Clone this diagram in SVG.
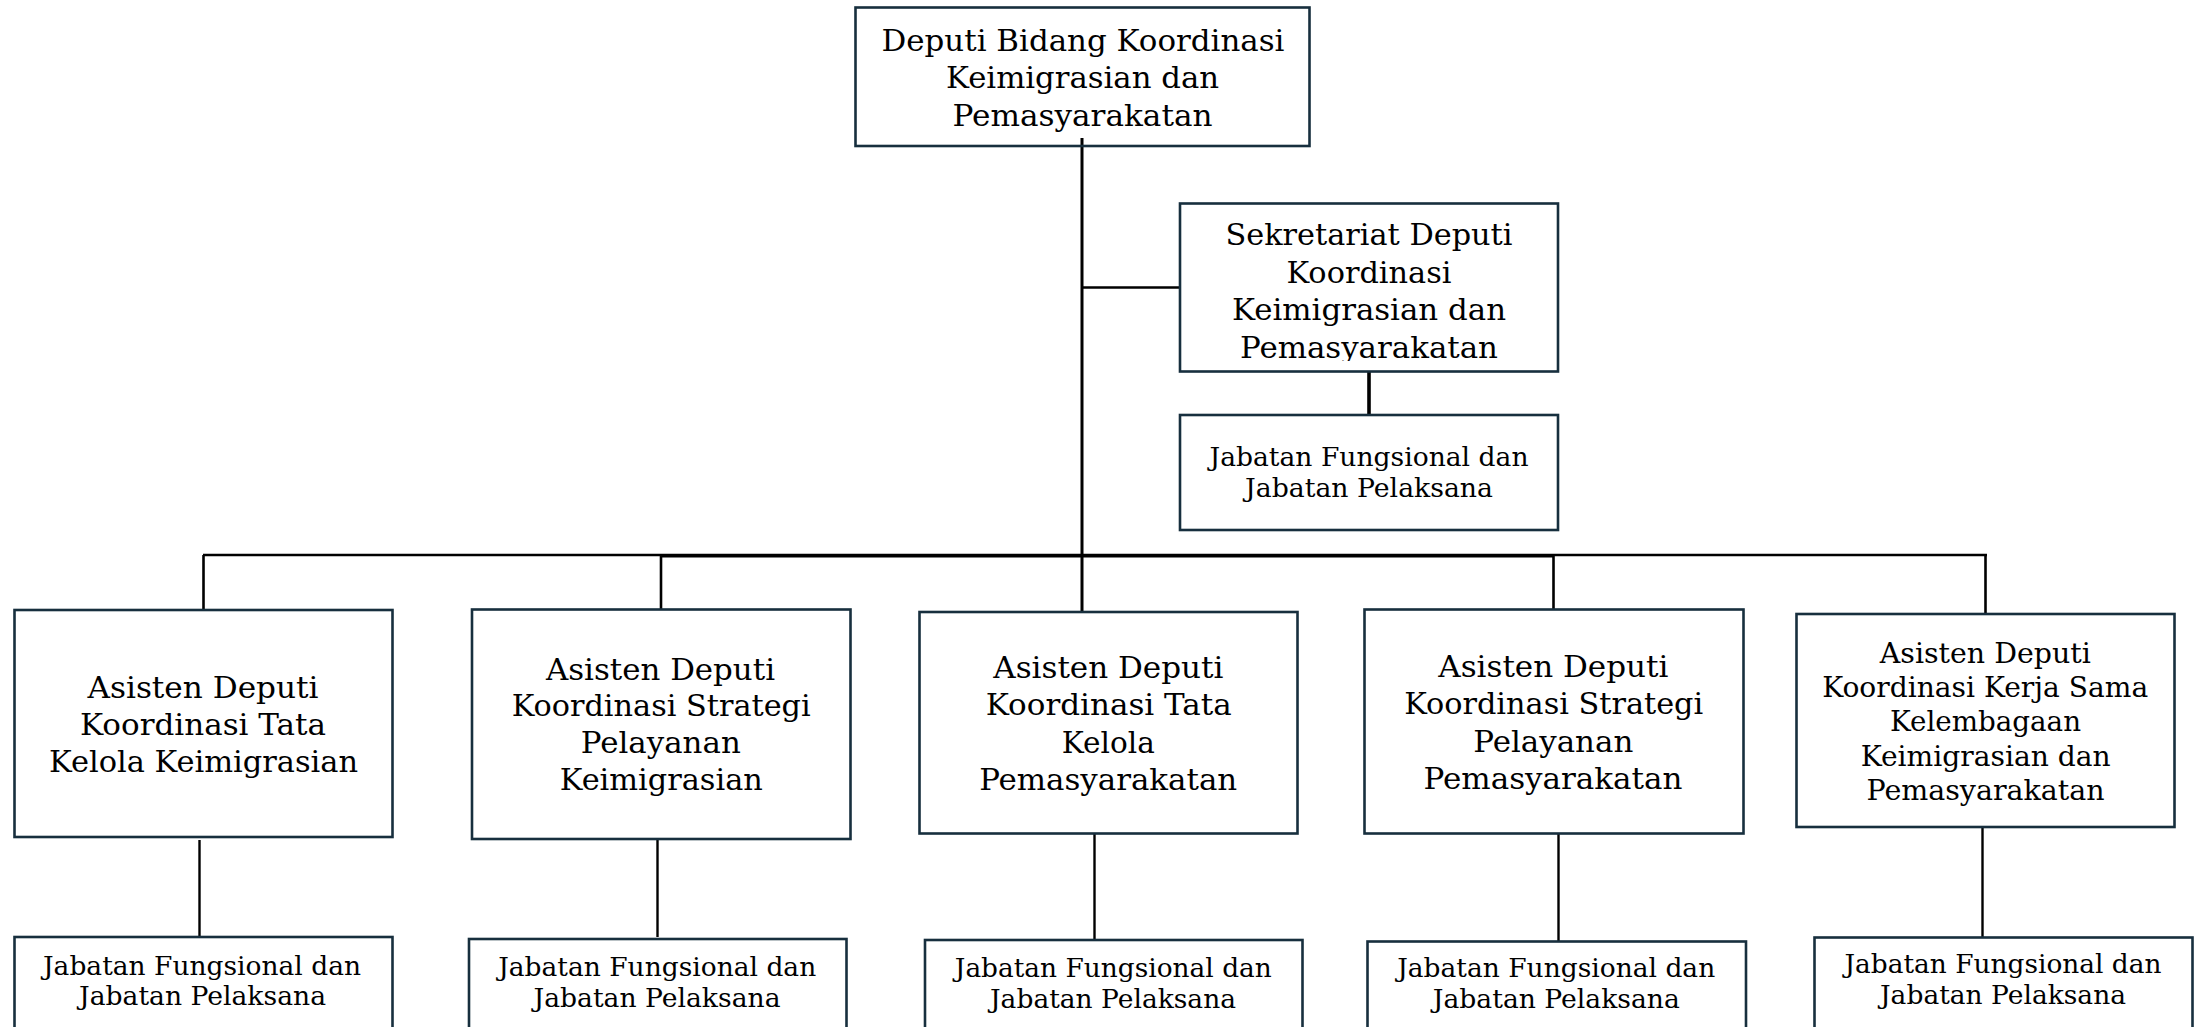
<svg xmlns="http://www.w3.org/2000/svg" width="2197" height="1027" viewBox="0 0 2197 1027">
<style>
.box{fill:#ffffff;stroke:#172f3e;stroke-width:2.6}
.t{font-family:"DejaVu Serif","Liberation Serif",serif;fill:#000;text-anchor:middle}
.xl{font-size:29px}
.l{font-size:30px}
.m{font-size:28px}
.s{font-size:26px}
.c{stroke:#000;fill:none}
</style>
<defs>
<clipPath id="secclip"><rect x="1180" y="200" width="378" height="161"/></clipPath>
</defs>
<rect x="0" y="0" width="2197" height="1027" fill="#ffffff"/>

<g id="connectors">
<line class="c" x1="1082" y1="138" x2="1082" y2="612" stroke-width="3"/>
<line class="c" x1="1082" y1="287.5" x2="1180" y2="287.5" stroke-width="2.6"/>
<line class="c" x1="1369" y1="371" x2="1369" y2="415" stroke-width="3.6"/>
<line class="c" x1="203" y1="555" x2="1987" y2="555" stroke-width="2.6"/>
<line class="c" x1="661" y1="556" x2="1553" y2="556" stroke-width="3.2"/>
<line class="c" x1="203.5" y1="555" x2="203.5" y2="610" stroke-width="2.6"/>
<line class="c" x1="661" y1="555" x2="661" y2="609" stroke-width="2.6"/>
<line class="c" x1="1553.5" y1="555" x2="1553.5" y2="609" stroke-width="2.6"/>
<line class="c" x1="1985.5" y1="554" x2="1985.5" y2="614" stroke-width="2.6"/>
<line class="c" x1="199.5" y1="840" x2="199.5" y2="937" stroke-width="2.4"/>
<line class="c" x1="657.5" y1="840" x2="657.5" y2="937" stroke-width="2.4"/>
<line class="c" x1="1094.5" y1="833" x2="1094.5" y2="940" stroke-width="2.4"/>
<line class="c" x1="1558.5" y1="829" x2="1558.5" y2="942" stroke-width="2.4"/>
<line class="c" x1="1982.5" y1="822" x2="1982.5" y2="937" stroke-width="2.4"/>
</g>

<g id="deputi">
<rect class="box" x="855.5" y="7.5" width="454" height="138.5" fill-opacity="0"/>
<text class="t xl" x="1083" y="51" textLength="403" lengthAdjust="spacingAndGlyphs">Deputi Bidang Koordinasi</text>
<text class="t xl" x="1082.5" y="88" textLength="273" lengthAdjust="spacingAndGlyphs">Keimigrasian dan</text>
<text class="t xl" x="1082.5" y="126" textLength="260" lengthAdjust="spacingAndGlyphs">Pemasyarakatan</text>
</g>

<g id="sekretariat">
<rect class="box" x="1180" y="203.5" width="378" height="168"/>
<text class="t l" x="1369" y="245" textLength="287" lengthAdjust="spacingAndGlyphs">Sekretariat Deputi</text>
<text class="t l" x="1369" y="283" textLength="165" lengthAdjust="spacingAndGlyphs">Koordinasi</text>
<text class="t l" x="1369" y="320" textLength="274" lengthAdjust="spacingAndGlyphs">Keimigrasian dan</text>
<text class="t l" x="1369" y="357.5" textLength="258" lengthAdjust="spacingAndGlyphs" clip-path="url(#secclip)">Pemasyarakatan</text>
</g>

<g id="sekretariat-jabatan">
<rect class="box" x="1180" y="415" width="378" height="115"/>
<text class="t s" x="1369" y="466" textLength="319" lengthAdjust="spacingAndGlyphs">Jabatan Fungsional dan</text>
<text class="t s" x="1369" y="497" textLength="248" lengthAdjust="spacingAndGlyphs">Jabatan Pelaksana</text>
</g>

<g id="asdep1">
<rect class="box" x="14.5" y="610" width="378" height="227"/>
<text class="t l" x="203" y="697.5" textLength="231" lengthAdjust="spacingAndGlyphs">Asisten Deputi</text>
<text class="t l" x="203" y="735" textLength="246" lengthAdjust="spacingAndGlyphs">Koordinasi Tata</text>
<text class="t l" x="203.5" y="771.5" textLength="309" lengthAdjust="spacingAndGlyphs">Kelola Keimigrasian</text>
</g>
<g id="jab1">
<rect class="box" x="14.5" y="937" width="378" height="110"/>
<text class="t s" x="202" y="975" textLength="318" lengthAdjust="spacingAndGlyphs">Jabatan Fungsional dan</text>
<text class="t s" x="202.5" y="1005" textLength="247" lengthAdjust="spacingAndGlyphs">Jabatan Pelaksana</text>
</g>

<g id="asdep2">
<rect class="box" x="472" y="609.5" width="378.5" height="229.5"/>
<text class="t l" x="660.5" y="679.5" textLength="229" lengthAdjust="spacingAndGlyphs">Asisten Deputi</text>
<text class="t l" x="661.2" y="716" textLength="299" lengthAdjust="spacingAndGlyphs">Koordinasi Strategi</text>
<text class="t l" x="660.8" y="753.3" textLength="160" lengthAdjust="spacingAndGlyphs">Pelayanan</text>
<text class="t l" x="661.3" y="790" textLength="203" lengthAdjust="spacingAndGlyphs">Keimigrasian</text>
</g>
<g id="jab2">
<rect class="box" x="469" y="939" width="377.5" height="110"/>
<text class="t s" x="657.2" y="976" textLength="318" lengthAdjust="spacingAndGlyphs">Jabatan Fungsional dan</text>
<text class="t s" x="657" y="1006.5" textLength="247" lengthAdjust="spacingAndGlyphs">Jabatan Pelaksana</text>
</g>

<g id="asdep3">
<rect class="box" x="919.5" y="612" width="378" height="221.5"/>
<text class="t l" x="1108.3" y="677.7" textLength="230" lengthAdjust="spacingAndGlyphs">Asisten Deputi</text>
<text class="t l" x="1108.8" y="715" textLength="246" lengthAdjust="spacingAndGlyphs">Koordinasi Tata</text>
<text class="t l" x="1108.3" y="752.7" textLength="93" lengthAdjust="spacingAndGlyphs">Kelola</text>
<text class="t l" x="1108.2" y="790" textLength="258" lengthAdjust="spacingAndGlyphs">Pemasyarakatan</text>
</g>
<g id="jab3">
<rect class="box" x="925" y="940" width="377.5" height="110"/>
<text class="t s" x="1113.3" y="976.7" textLength="317" lengthAdjust="spacingAndGlyphs">Jabatan Fungsional dan</text>
<text class="t s" x="1113" y="1008.3" textLength="246" lengthAdjust="spacingAndGlyphs">Jabatan Pelaksana</text>
</g>

<g id="asdep4">
<rect class="box" x="1364.5" y="609.5" width="379" height="224"/>
<text class="t l" x="1553.3" y="676.7" textLength="230" lengthAdjust="spacingAndGlyphs">Asisten Deputi</text>
<text class="t l" x="1553.7" y="714" textLength="299" lengthAdjust="spacingAndGlyphs">Koordinasi Strategi</text>
<text class="t l" x="1553.3" y="751.7" textLength="160" lengthAdjust="spacingAndGlyphs">Pelayanan</text>
<text class="t l" x="1553" y="789.3" textLength="259" lengthAdjust="spacingAndGlyphs">Pemasyarakatan</text>
</g>
<g id="jab4">
<rect class="box" x="1367.5" y="941.5" width="378.5" height="110"/>
<text class="t s" x="1556.2" y="976.7" textLength="318" lengthAdjust="spacingAndGlyphs">Jabatan Fungsional dan</text>
<text class="t s" x="1556.3" y="1008.3" textLength="247" lengthAdjust="spacingAndGlyphs">Jabatan Pelaksana</text>
</g>

<g id="asdep5">
<rect class="box" x="1796.5" y="614" width="378" height="213"/>
<text class="t m" x="1985.3" y="663" textLength="211" lengthAdjust="spacingAndGlyphs">Asisten Deputi</text>
<text class="t m" x="1985.2" y="697" textLength="326" lengthAdjust="spacingAndGlyphs">Koordinasi Kerja Sama</text>
<text class="t m" x="1985.5" y="731" textLength="191" lengthAdjust="spacingAndGlyphs">Kelembagaan</text>
<text class="t m" x="1985.7" y="766" textLength="250" lengthAdjust="spacingAndGlyphs">Keimigrasian dan</text>
<text class="t m" x="1985.5" y="800" textLength="238" lengthAdjust="spacingAndGlyphs">Pemasyarakatan</text>
</g>
<g id="jab5">
<rect class="box" x="1814.5" y="937.5" width="378" height="110"/>
<text class="t s" x="2003" y="973.3" textLength="317" lengthAdjust="spacingAndGlyphs">Jabatan Fungsional dan</text>
<text class="t s" x="2003" y="1004.3" textLength="246" lengthAdjust="spacingAndGlyphs">Jabatan Pelaksana</text>
</g>
</svg>
